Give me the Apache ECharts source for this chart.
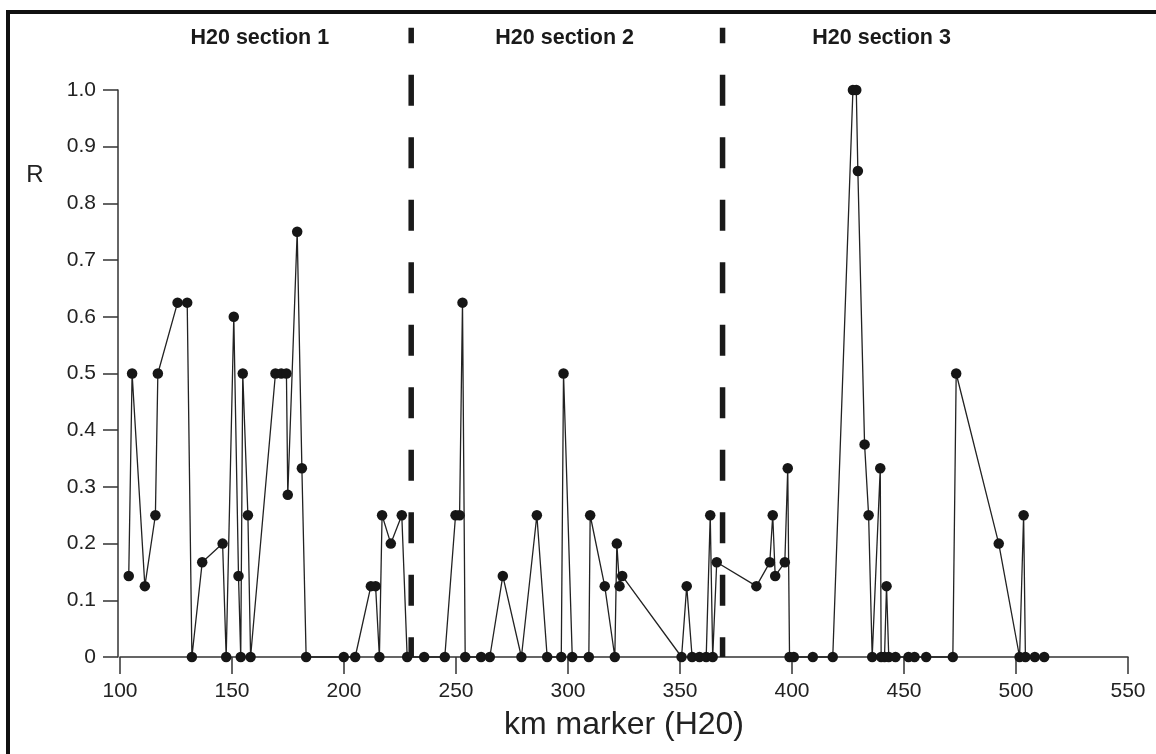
<!DOCTYPE html>
<html>
<head>
<meta charset="utf-8">
<script src="https://cdn.jsdelivr.net/npm/echarts@6/dist/echarts.min.js"></script>
<style>
  html, body { margin: 0; padding: 0; background: #fff; }
  #c { width: 1156px; height: 754px; }
</style>
</head>
<body>
<div id="c"></div>
<script>
// ---- data ----
const kmValues = [
  103.9, 105.4, 111.1, 115.8, 116.9, 125.7, 130.0, 132.1, 136.7, 145.8,
  147.4, 150.8, 152.9, 153.9, 154.8, 157.1, 158.3, 169.4, 172.0, 174.3,
  174.9, 179.1, 181.2, 183.1,
  199.9, 205.0, 212.0, 214.1, 215.8, 217.0, 220.9, 225.8, 228.2, 235.8,
  245.0, 249.8, 251.6, 252.9, 254.1, 261.2, 265.1, 270.9, 279.2, 286.1,
  290.7, 297.0, 298.0, 301.9, 309.3, 309.9, 316.4, 320.9, 321.8, 323.0,
  324.2, 350.7, 353.0, 355.4, 358.7, 361.7, 363.5, 364.6, 366.4,
  384.1, 390.1, 391.4, 392.5, 396.8, 398.1, 398.9, 400.8, 409.3, 418.2,
  427.2, 428.7, 429.4, 432.4, 434.2, 435.8, 439.4, 439.8, 441.3, 442.2,
  443.2, 446.2, 452.0, 454.7, 459.9, 471.8, 473.3, 492.3, 501.6, 503.4,
  504.2, 508.4, 512.6
];
const rValues = [
  0.143, 0.5, 0.125, 0.25, 0.5, 0.625, 0.625, 0, 0.167, 0.2,
  0, 0.6, 0.143, 0, 0.5, 0.25, 0, 0.5, 0.5, 0.5,
  0.286, 0.75, 0.333, 0,
  0, 0, 0.125, 0.125, 0, 0.25, 0.2, 0.25, 0, 0,
  0, 0.25, 0.25, 0.625, 0, 0, 0, 0.143, 0, 0.25,
  0, 0, 0.5, 0, 0, 0.25, 0.125, 0, 0.2, 0.125,
  0.143, 0, 0.125, 0, 0, 0, 0.25, 0, 0.167,
  0.125, 0.167, 0.25, 0.143, 0.167, 0.333, 0, 0, 0, 0,
  1.0, 1.0, 0.857, 0.375, 0.25, 0, 0.333, 0, 0, 0.125,
  0, 0, 0, 0, 0, 0, 0.5, 0.2, 0, 0.25,
  0, 0, 0
];
const yTickLabels = ['0', '0.1', '0.2', '0.3', '0.4', '0.5', '0.6', '0.7', '0.8', '0.9', '1.0'];
const xTickLabels = ['100', '150', '200', '250', '300', '350', '400', '450', '500', '550'];
const sectionNames = ['H20 section 1', 'H20 section 2', 'H20 section 3'];
const sectionCenters = [162.4, 298.5, 440.0];
const sectionBreaks = [230, 369];

const FONT = "'Liberation Sans', Arial, Helvetica, sans-serif";
const TXT = '#222';

const chart = echarts.init(document.getElementById('c'), null, { renderer: 'canvas' });
const points = kmValues.map((k, i) => [k, rValues[i]]);

chart.setOption({
  animation: false,
  backgroundColor: '#fff',
  grid: { left: 120, right: 28, top: 90, bottom: 97, containLabel: false },
  xAxis: {
    type: 'value', min: 100, max: 550, interval: 50,
    name: 'km marker (H20)', nameLocation: 'middle', nameGap: 52,
    nameTextStyle: { fontFamily: FONT, fontSize: 32, color: TXT },
    axisLine: { show: true, onZero: false, lineStyle: { color: '#333', width: 1.5 } },
    axisTick: { show: true, inside: false, length: 17, lineStyle: { color: '#333', width: 1.5 } },
    axisLabel: {
      margin: 24, fontFamily: FONT, fontSize: 21, color: TXT,
      formatter: v => xTickLabels[Math.round((v - 100) / 50)] || ''
    },
    splitLine: { show: false }
  },
  yAxis: {
    type: 'value', min: 0, max: 1.0, interval: 0.1, offset: 2,
    axisLine: { show: true, onZero: false, lineStyle: { color: '#333', width: 1.5 } },
    axisTick: { show: true, inside: false, length: 15, lineStyle: { color: '#333', width: 1.5 } },
    axisLabel: {
      margin: 22, fontFamily: FONT, fontSize: 21, color: TXT,
      formatter: v => yTickLabels[Math.round(v * 10)] || ''
    },
    splitLine: { show: false }
  },
  series: [{
    type: 'line',
    data: points,
    symbol: 'circle',
    symbolSize: 10.5,
    clip: false,
    itemStyle: { color: '#161616' },
    lineStyle: { color: '#222', width: 1.3 },
    z: 3
  }]
});

// decorations positioned through the chart's own scales
const px = (x, y) => chart.convertToPixel({ gridIndex: 0 }, [x, y]);
const graphics = [];
// frame (top and left)
graphics.push({ type: 'rect', shape: { x: 6, y: 10, width: 1150, height: 4 }, style: { fill: '#111' }, z: 10 });
graphics.push({ type: 'rect', shape: { x: 6, y: 10, width: 4, height: 744 }, style: { fill: '#111' }, z: 10 });
// section breaks
sectionBreaks.forEach(b => {
  const top = px(b, 1.11), bot = px(b, 0);
  graphics.push({
    type: 'line', z: 5,
    shape: { x1: top[0], y1: top[1], x2: bot[0], y2: bot[1] },
    style: { stroke: '#1a1a1a', lineWidth: 5.5, lineDash: [31, 31.5], lineDashOffset: 15.5 }
  });
});
// section titles
sectionNames.forEach((n, i) => {
  const p = px(sectionCenters[i], 0);
  graphics.push({
    type: 'text', z: 6, x: p[0], y: 38,
    style: { text: n, fontFamily: FONT, fontSize: 21.5, fontWeight: 'bold', fill: '#1a1a1a', align: 'center', verticalAlign: 'middle' }
  });
});
// y-axis name
graphics.push({
  type: 'text', z: 6, x: 35, y: 175,
  style: { text: 'R', fontFamily: FONT, fontSize: 24, fill: TXT, align: 'center', verticalAlign: 'middle' }
});
chart.setOption({ graphic: graphics });
</script>
</body>
</html>
